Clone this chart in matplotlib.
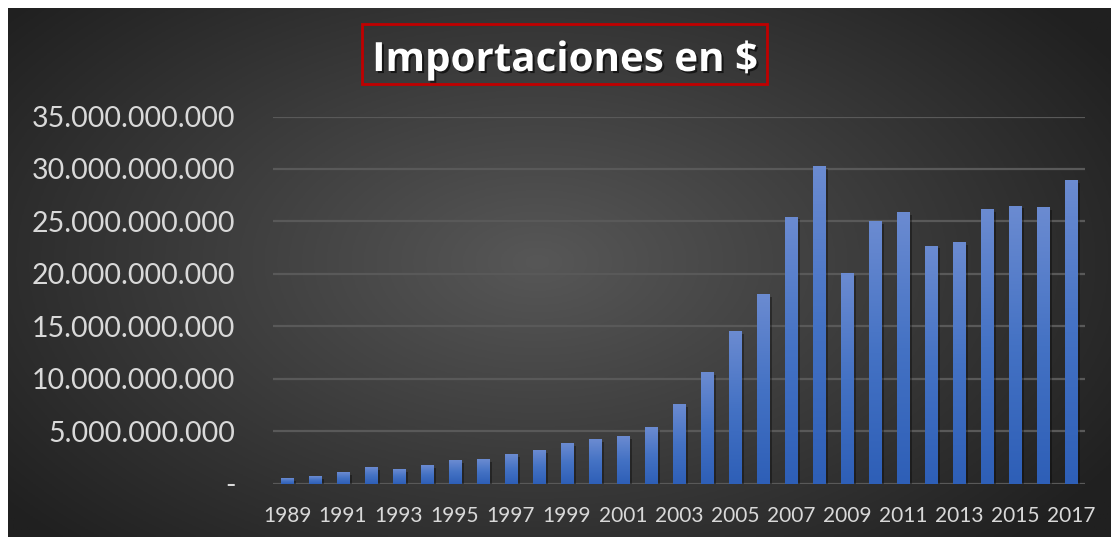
import numpy as np
import matplotlib
matplotlib.use('Agg')
import matplotlib.pyplot as plt
import matplotlib.patheffects as pe
from matplotlib.patches import Rectangle
from matplotlib.ticker import FuncFormatter

# %% Data:

years = list(range(1989, 2018))
imports = [0.54e9, 0.73e9, 1.10e9, 1.60e9, 1.40e9, 1.78e9, 2.26e9, 2.36e9,
           2.83e9, 3.20e9, 3.87e9, 4.26e9, 4.55e9, 5.40e9, 7.60e9, 10.66e9,
           14.57e9, 18.10e9, 25.45e9, 30.30e9, 20.10e9, 25.05e9, 25.90e9,
           22.70e9, 23.05e9, 26.20e9, 26.50e9, 26.40e9, 28.95e9]
y_ticks = [0, 5e9, 10e9, 15e9, 20e9, 25e9, 30e9, 35e9]
title = 'Importaciones en $'

# %% Figure and background:

W, H = 1112, 537
fig = plt.figure(figsize=(W/100, H/100), dpi=100, facecolor='white')

bg = fig.add_axes([8/W, 0, (W - 9)/W, (H - 8)/H])
bg.set_axis_off()
gx, gy = np.meshgrid(np.linspace(0, 1, 400), np.linspace(0, 1, 200))
r = np.sqrt(((gx - 0.48)/0.62)**2 + ((gy - 0.52)/0.75)**2)
r = np.clip(r, 0, 1)
light = np.array([0x57, 0x57, 0x57])/255
dark = np.array([0x20, 0x20, 0x20])/255
img = light[None, None, :]*(1 - r[..., None]) + dark[None, None, :]*r[..., None]
bg.imshow(img, aspect='auto', extent=[0, 1, 0, 1], origin='lower')

# %% Chart axes:

ax = fig.add_axes([273/W, (H - 483.7)/H, (1085 - 273)/W, (483.7 - 116.5)/H])
ax.patch.set_visible(False)
x = np.arange(len(years))

cmap = matplotlib.colors.LinearSegmentedColormap.from_list(
    'bar', ['#2e5fb7', '#4472c4', '#6b8bd1'])
grad = np.linspace(0, 1, 100)[:, None]

bars = ax.bar(x, imports, width=0.43, color='#4472c4', zorder=3)
for b in bars:
    b.set_path_effects([pe.SimplePatchShadow(offset=(2, -2), shadow_rgbFace='black', alpha=0.35),
                        pe.Normal()])
    # vertical gradient on each bar
    im = ax.imshow(grad, cmap=cmap, origin='lower', aspect='auto', zorder=4,
                   extent=[b.get_x(), b.get_x() + b.get_width(), 0, b.get_height()])
    im.set_clip_path(b)

ax.set_xlim(-0.5, len(years) - 0.5)
ax.set_ylim(0, 35e9)

ax.set_yticks(y_ticks)
ax.yaxis.set_major_formatter(FuncFormatter(
    lambda v, p: '-' if v == 0 else f'{v:,.0f}'.replace(',', '.')))
ax.set_xticks(x[::2], [str(yr) for yr in years[::2]])

ax.grid(axis='y', color='#595959', linewidth=1.6, zorder=1)
ax.set_axisbelow(True)
for s in ax.spines.values():
    s.set_visible(False)
ax.tick_params(axis='both', length=0, colors='#d9d9d9')
ax.tick_params(axis='y', pad=27, labelsize=20.5)
ax.tick_params(axis='x', pad=16, labelsize=15)
for lab in ax.get_xticklabels() + ax.get_yticklabels():
    lab.set_fontfamily('Lato')

# %% Title in red box:

fig.patches.append(Rectangle((362/W, (H - 84)/H), 405/W, 60/H, transform=fig.transFigure,
                             fill=False, edgecolor='#c00000', linewidth=2))
fig.text(564.5/W, (H - 71)/H, title, ha='center', va='baseline', color='white',
         fontsize=29, fontweight='bold', fontfamily='Open Sans',
         path_effects=[pe.withSimplePatchShadow(offset=(1.5, -1.5), shadow_rgbFace='black',
                                                alpha=0.6)])

fig.savefig('out.png', dpi=100, facecolor='white')
